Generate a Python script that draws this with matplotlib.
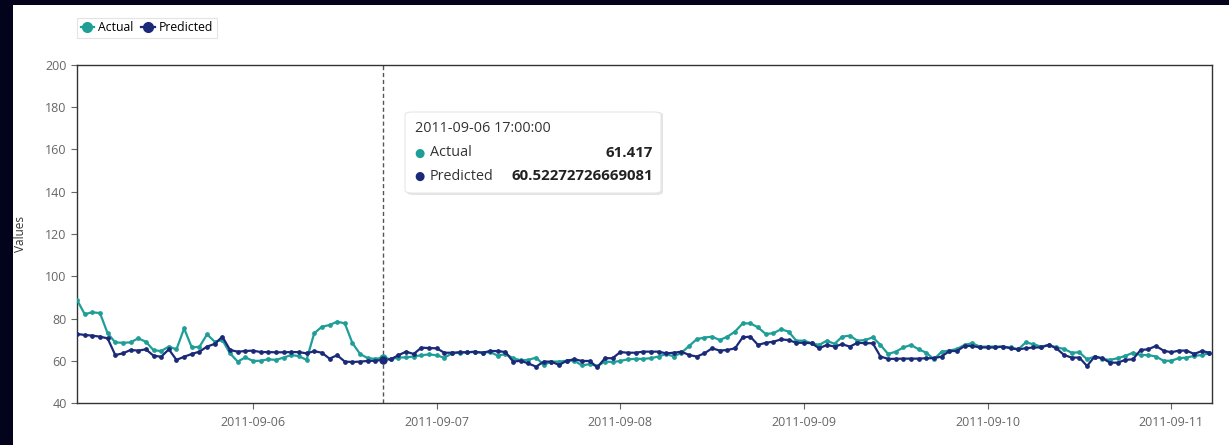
import numpy as np
import pandas as pd
import matplotlib
matplotlib.use("Agg")
import matplotlib.pyplot as plt
import matplotlib.dates as mdates
from matplotlib.patches import Rectangle, FancyBboxPatch
from matplotlib.lines import Line2D

plt.rcParams['font.family'] = ['Open Sans', 'DejaVu Sans']

# hourly values
start_time = "2011-09-05 01:00"
actual = [
    88.8, 82.1, 82.9, 82.6, 73.0, 68.7, 68.5, 68.7, 70.6, 69.0,
    65.0, 64.6, 66.7, 65.4, 75.3, 66.3, 66.6, 72.5, 69.0, 69.8,
    63.5, 59.6, 61.6, 59.9, 60.0, 60.7, 60.4, 61.5, 62.7, 62.2,
    60.4, 73.0, 76.1, 76.9, 78.5, 77.7, 68.3, 63.2, 61.2, 60.9,
    61.417, 60.7, 61.5, 61.6, 62.0, 62.6, 63.0, 62.6, 61.4, 63.5,
    63.8, 64.1, 64.1, 63.8, 64.1, 62.4, 63.2, 61.2, 60.2, 60.4,
    61.5, 58.0, 59.6, 59.6, 60.0, 60.0, 57.8, 58.4, 57.5, 59.6,
    59.4, 59.9, 60.7, 60.9, 60.9, 61.2, 62.0, 63.2, 62.0, 63.8,
    67.0, 70.2, 71.0, 71.4, 69.8, 71.4, 73.8, 77.7, 77.7, 75.8,
    72.7, 73.0, 74.9, 73.8, 69.5, 69.5, 68.3, 67.5, 69.5, 68.0,
    71.4, 71.9, 69.5, 69.8, 71.1, 67.5, 63.2, 64.3, 66.3, 67.5,
    65.4, 63.8, 60.7, 64.3, 64.8, 65.6, 67.5, 68.3, 66.7, 66.7,
    66.7, 66.7, 66.3, 65.4, 68.7, 67.8, 66.7, 67.5, 66.3, 65.6,
    63.8, 64.0, 60.7, 62.0, 60.9, 60.4, 61.2, 62.3, 63.8, 62.7,
    62.7, 62.0, 60.0, 60.0, 61.2, 61.5, 62.3, 62.7, 63.5,
]
predicted = [
    72.7, 72.2, 71.9, 71.4, 70.6, 62.7, 63.5, 65.1, 64.8, 65.4,
    62.4, 61.9, 65.4, 60.4, 61.9, 63.2, 64.3, 66.7, 68.0, 71.4,
    65.1, 64.3, 64.6, 64.8, 64.1, 64.1, 64.0, 64.0, 64.1, 64.1,
    63.5, 64.5, 63.8, 61.0, 62.6, 59.6, 59.4, 59.6, 59.9, 60.0,
    60.52272726669081, 60.7, 62.6, 64.3, 63.2, 66.2, 66.0, 65.9, 63.8, 63.8,
    64.0, 64.0, 64.3, 63.8, 64.6, 64.6, 64.1, 59.6, 60.0, 58.7,
    57.2, 59.6, 59.6, 58.0, 60.0, 60.7, 59.9, 59.9, 56.9, 61.2,
    61.2, 64.1, 63.8, 63.8, 64.3, 64.3, 64.3, 63.5, 63.8, 64.3,
    62.7, 62.0, 63.5, 65.9, 64.8, 65.1, 65.9, 71.1, 71.4, 67.5,
    68.5, 69.0, 70.1, 69.8, 68.5, 68.5, 68.3, 65.9, 67.5, 66.7,
    67.8, 66.7, 68.5, 68.3, 68.3, 62.0, 60.9, 60.9, 61.0, 61.0,
    61.0, 61.2, 61.2, 62.0, 64.6, 64.6, 67.0, 67.0, 66.3, 66.3,
    66.3, 66.7, 65.9, 65.4, 65.9, 66.3, 66.3, 67.5, 65.9, 62.7,
    61.5, 61.5, 57.5, 62.0, 61.2, 59.1, 59.1, 60.4, 60.7, 65.1,
    65.4, 67.0, 64.8, 64.0, 64.8, 64.8, 63.2, 64.6, 63.8,
]
hover_index = 40

times = pd.date_range(start_time, periods=len(actual), freq="h")

teal = "#1f9e98"
navy = "#1b2a78"
W, H = 1229, 445

def fx(px):
    return px / W

def fy(py):
    return 1 - py / H

fig = plt.figure(figsize=(W / 100, H / 100), dpi=100, facecolor="#03031c")
fig.patches.append(Rectangle((fx(13), 0), 1 - fx(13), fy(5), transform=fig.transFigure,
                             facecolor="white", edgecolor="none", zorder=-5))

ax = fig.add_axes([fx(77), fy(403), fx(1212) - fx(77), fy(65) - fy(403)])
ax.set_facecolor("white")

ax.plot(times, actual, color=teal, lw=1.6, marker="o", ms=2.4, label="Actual", zorder=3)
ax.plot(times, predicted, color=navy, lw=1.6, marker="o", ms=2.4, label="Predicted", zorder=4)

# hover state
t_hover = times[hover_index]
ax.axvline(t_hover, color="#555555", lw=1, ls=(0, (3, 2)), zorder=2)
ax.plot([t_hover], [actual[hover_index]], "o", color=teal, ms=5, zorder=5)
ax.plot([t_hover], [predicted[hover_index]], "o", color=navy, ms=5, zorder=6)

ax.set_ylim(40, 200)
ax.set_yticks(np.arange(40, 201, 20))
ax.set_xlim(times[0], times[-1] + pd.Timedelta(minutes=20))
ax.xaxis.set_major_locator(mdates.DayLocator())
ax.xaxis.set_major_formatter(mdates.DateFormatter("%Y-%m-%d"))

for s in ax.spines.values():
    s.set_color("#333333")
    s.set_linewidth(1.0)
ax.tick_params(axis="both", colors="#666666", labelsize=9, length=4, width=0.8)
ax.tick_params(axis="x", pad=5)
ax.set_ylabel("Values", fontsize=8.5, color="#333333", labelpad=13)

handles = [Line2D([], [], color=teal, lw=1.6, marker="o", ms=7),
           Line2D([], [], color=navy, lw=1.6, marker="o", ms=7)]
leg = fig.legend(handles, ["Actual", "Predicted"], loc="lower left",
                 bbox_to_anchor=(fx(77), fy(38)), bbox_transform=fig.transFigure,
                 ncol=2, fontsize=8.8, frameon=True, handlelength=1.1, handletextpad=0.35,
                 columnspacing=0.6, borderpad=0.3, borderaxespad=0, fancybox=False)
leg.get_frame().set_edgecolor("#dddddd")
leg.get_frame().set_linewidth(0.8)

# tooltip box
fig.patches.append(FancyBboxPatch((fx(407), fy(195)), fx(663) - fx(407), fy(112) - fy(195),
                                  boxstyle="round,pad=0,rounding_size=0.006", transform=fig.transFigure,
                                  facecolor="#e4e4e4", edgecolor="none", zorder=9))
fig.patches.append(FancyBboxPatch((fx(405), fy(193)), fx(661) - fx(405), fy(112) - fy(193),
                                  boxstyle="round,pad=0,rounding_size=0.006", transform=fig.transFigure,
                                  facecolor="white", edgecolor="#e6e6e6", lw=0.8, zorder=10))
fig.text(fx(415), fy(129), t_hover.strftime("%Y-%m-%d %H:%M:%S"), fontsize=10.4,
         color="#333333", va="center", ha="left", zorder=11)
rows = [("Actual", teal, f"{actual[hover_index]:g}", 153),
        ("Predicted", navy, repr(predicted[hover_index]), 176)]
for name, col, val, py in rows:
    fig.text(fx(414), fy(py), "\u25cf", fontsize=8.5, color=col, va="center", ha="left",
             family=["DejaVu Sans"], zorder=11)
    fig.text(fx(430), fy(py), name, fontsize=10.4, color="#333333", va="center", ha="left", zorder=11)
    fig.text(fx(653), fy(py), val, fontsize=10.8, color="#222222", fontweight="bold",
             va="center", ha="right", zorder=11)

fig.savefig("out.png", dpi=100, facecolor=fig.get_facecolor())
